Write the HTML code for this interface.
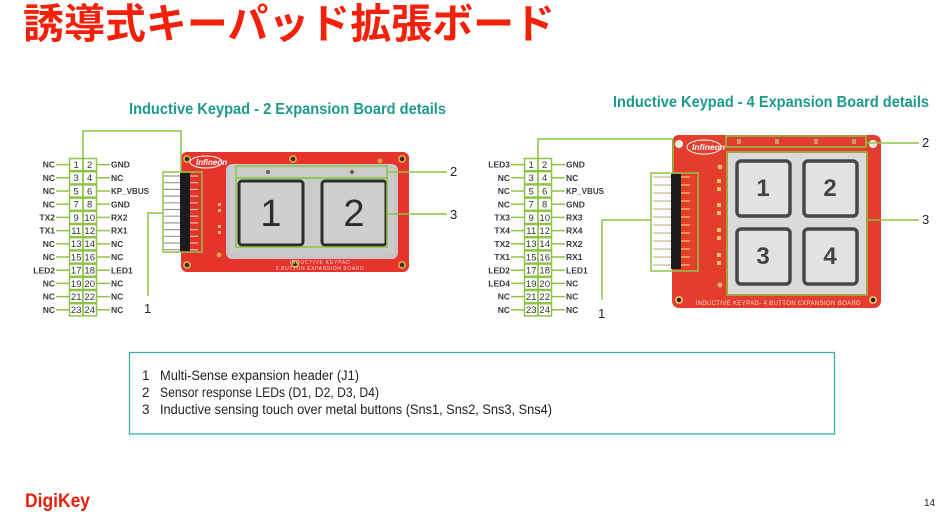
<!DOCTYPE html>
<html><head><meta charset="utf-8">
<style>
html,body{margin:0;padding:0;background:#fff;}
body{width:950px;height:517px;overflow:hidden;position:relative;font-family:"Liberation Sans","Noto Sans CJK JP",sans-serif;}
svg{position:absolute;left:0;top:0;}
</style></head>
<body>
<svg width="950" height="517" viewBox="0 0 950 517" xmlns="http://www.w3.org/2000/svg" font-family="Liberation Sans, Noto Sans CJK JP, sans-serif">
<!-- Title -->
<text x="23" y="38" font-size="41" font-weight="bold" fill="#f5200a" font-family="Liberation Sans, Noto Sans CJK JP, sans-serif" textLength="532" lengthAdjust="spacingAndGlyphs">誘導式キーパッド拡張ボード</text>

<!-- Subtitles -->
<text x="129" y="114" font-size="16" font-weight="bold" fill="#1d9a8c" textLength="317" lengthAdjust="spacingAndGlyphs">Inductive Keypad - 2 Expansion Board details</text>
<text x="613" y="107" font-size="16" font-weight="bold" fill="#1d9a8c" textLength="316" lengthAdjust="spacingAndGlyphs">Inductive Keypad - 4 Expansion Board details</text>

<!-- ===== Board 1 ===== -->
<rect x="181" y="152" width="228" height="120" rx="6" fill="#e6332b"/>
<!-- mounting holes -->
<g fill="#d9a441"><circle cx="187" cy="159" r="4"/><circle cx="293" cy="159" r="4"/><circle cx="402" cy="159" r="4"/><circle cx="187" cy="265" r="4"/><circle cx="295" cy="264" r="4"/><circle cx="402" cy="265" r="4"/><circle cx="380" cy="161" r="2.5"/><circle cx="219" cy="255" r="2.5"/></g>
<g fill="#3a2a20"><circle cx="187" cy="159" r="2.2"/><circle cx="293" cy="159" r="2.2"/><circle cx="402" cy="159" r="2.2"/><circle cx="187" cy="265" r="2.2"/><circle cx="295" cy="264" r="2.2"/><circle cx="402" cy="265" r="2.2"/></g>
<!-- infineon logo -->
<ellipse cx="206" cy="162" rx="16" ry="6" fill="none" stroke="#fff" stroke-width="1"/>
<text x="196" y="165" font-size="8" font-weight="bold" fill="#fff" font-style="italic">Infineon</text>
<!-- small pads -->
<g fill="#f0c060"><rect x="218" y="203" width="3" height="3"/><rect x="218" y="209" width="3" height="3"/><rect x="218" y="225" width="3" height="3"/><rect x="218" y="231" width="3" height="3"/></g>
<!-- plate -->
<rect x="226" y="164" width="172" height="95" rx="6" fill="#c6c6c6"/>
<rect x="230" y="168" width="164" height="87" rx="4" fill="#cbcbcb"/>
<circle cx="268" cy="172" r="2" fill="#7a5a4a"/><circle cx="352" cy="172" r="2" fill="#7a5a4a"/>
<rect x="239" y="181" width="64" height="64" rx="3" fill="#cfcfcf" stroke="#2d2d2d" stroke-width="3"/>
<rect x="322" y="181" width="64" height="64" rx="3" fill="#cfcfcf" stroke="#2d2d2d" stroke-width="3"/>
<text x="271" y="226" font-size="38" fill="#2d2d2d" text-anchor="middle">1</text>
<text x="354" y="226" font-size="38" fill="#2d2d2d" text-anchor="middle">2</text>
<text x="320" y="264" font-size="5" fill="#f3d6d0" text-anchor="middle" letter-spacing="0.8">INDUCTIVE KEYPAD</text>
<text x="320" y="270" font-size="5" fill="#f3d6d0" text-anchor="middle" letter-spacing="0.6">2 BUTTON EXPANSION BOARD</text>
<!-- header 1 -->
<g stroke="#9a9a8a" stroke-width="1.2">
<line x1="164" y1="176" x2="182" y2="176"/><line x1="164" y1="182.7" x2="182" y2="182.7"/><line x1="164" y1="189.4" x2="182" y2="189.4"/><line x1="164" y1="196.1" x2="182" y2="196.1"/><line x1="164" y1="202.8" x2="182" y2="202.8"/><line x1="164" y1="209.5" x2="182" y2="209.5"/><line x1="164" y1="216.2" x2="182" y2="216.2"/><line x1="164" y1="222.9" x2="182" y2="222.9"/><line x1="164" y1="229.6" x2="182" y2="229.6"/><line x1="164" y1="236.3" x2="182" y2="236.3"/><line x1="164" y1="243" x2="182" y2="243"/><line x1="164" y1="249.7" x2="182" y2="249.7"/>
</g>
<rect x="180" y="173" width="10" height="79" fill="#1c1c1c"/>
<g stroke="#d8c8a8" stroke-width="1.2">
<line x1="190" y1="176" x2="198" y2="176"/><line x1="190" y1="182.7" x2="198" y2="182.7"/><line x1="190" y1="189.4" x2="198" y2="189.4"/><line x1="190" y1="196.1" x2="198" y2="196.1"/><line x1="190" y1="202.8" x2="198" y2="202.8"/><line x1="190" y1="209.5" x2="198" y2="209.5"/><line x1="190" y1="216.2" x2="198" y2="216.2"/><line x1="190" y1="222.9" x2="198" y2="222.9"/><line x1="190" y1="229.6" x2="198" y2="229.6"/><line x1="190" y1="236.3" x2="198" y2="236.3"/><line x1="190" y1="243" x2="198" y2="243"/><line x1="190" y1="249.7" x2="198" y2="249.7"/>
</g>

<!-- ===== Board 2 ===== -->
<rect x="672" y="135" width="209" height="173" rx="7" fill="#e33d2e"/>
<g fill="#e8b860"><circle cx="679" cy="144" r="4"/><circle cx="873" cy="144" r="4"/><circle cx="679" cy="300" r="4"/><circle cx="873" cy="300" r="4"/><circle cx="720" cy="167" r="2.5"/><circle cx="720" cy="285" r="2.5"/></g>
<g fill="#2a1f18"><circle cx="679" cy="144" r="2.2"/><circle cx="873" cy="144" r="2.2"/><circle cx="679" cy="300" r="2.2"/><circle cx="873" cy="300" r="2.2"/></g>
<circle cx="679" cy="144" r="4" fill="#f4f0e8"/>
<circle cx="873" cy="144" r="4" fill="#f4f0e8"/>
<ellipse cx="704" cy="147" rx="17" ry="7" fill="none" stroke="#fff" stroke-width="1"/>
<text x="692" y="150" font-size="8.5" font-weight="bold" fill="#fff" font-style="italic">Infineon</text>
<g fill="#f2c468"><rect x="717" y="179" width="4" height="4"/><rect x="717" y="187" width="4" height="4"/><rect x="717" y="203" width="4" height="4"/><rect x="717" y="211" width="4" height="4"/><rect x="717" y="228" width="4" height="4"/><rect x="717" y="236" width="4" height="4"/><rect x="717" y="253" width="4" height="4"/><rect x="717" y="261" width="4" height="4"/></g>
<!-- LEDs -->
<g fill="#c89a6a"><rect x="737" y="139" width="4" height="5"/><rect x="775" y="139" width="4" height="5"/><rect x="814" y="139" width="4" height="5"/><rect x="852" y="139" width="4" height="5"/></g>
<!-- plate -->
<rect x="728" y="153" width="138" height="141" fill="#dadada"/>
<rect x="737" y="161" width="53" height="55" rx="4" fill="#e2e2e2" stroke="#474747" stroke-width="3.5"/>
<rect x="804" y="161" width="53" height="55" rx="4" fill="#e2e2e2" stroke="#474747" stroke-width="3.5"/>
<rect x="737" y="229" width="53" height="55" rx="4" fill="#e2e2e2" stroke="#474747" stroke-width="3.5"/>
<rect x="804" y="229" width="53" height="55" rx="4" fill="#e2e2e2" stroke="#474747" stroke-width="3.5"/>
<text x="763" y="196" font-size="24" font-weight="bold" fill="#444" text-anchor="middle">1</text>
<text x="830" y="196" font-size="24" font-weight="bold" fill="#444" text-anchor="middle">2</text>
<text x="763" y="264" font-size="24" font-weight="bold" fill="#444" text-anchor="middle">3</text>
<text x="830" y="264" font-size="24" font-weight="bold" fill="#444" text-anchor="middle">4</text>
<text x="778" y="305" font-size="6" fill="#f6d8cc" text-anchor="middle" textLength="165" lengthAdjust="spacing">INDUCTIVE KEYPAD- 4 BUTTON EXPANSION BOARD</text>
<!-- header 2 -->
<g stroke="#c8b890" stroke-width="1.2">
<line x1="653" y1="177" x2="672" y2="177"/><line x1="653" y1="185" x2="672" y2="185"/><line x1="653" y1="193" x2="672" y2="193"/><line x1="653" y1="201" x2="672" y2="201"/><line x1="653" y1="209" x2="672" y2="209"/><line x1="653" y1="217" x2="672" y2="217"/><line x1="653" y1="225" x2="672" y2="225"/><line x1="653" y1="233" x2="672" y2="233"/><line x1="653" y1="241" x2="672" y2="241"/><line x1="653" y1="249" x2="672" y2="249"/><line x1="653" y1="257" x2="672" y2="257"/><line x1="653" y1="265" x2="672" y2="265"/>
</g>
<rect x="671" y="174" width="10" height="95" fill="#1c1c1c"/>
<g stroke="#e0b860" stroke-width="1.5">
<line x1="681" y1="177" x2="690" y2="177"/><line x1="681" y1="185" x2="690" y2="185"/><line x1="681" y1="193" x2="690" y2="193"/><line x1="681" y1="201" x2="690" y2="201"/><line x1="681" y1="209" x2="690" y2="209"/><line x1="681" y1="217" x2="690" y2="217"/><line x1="681" y1="225" x2="690" y2="225"/><line x1="681" y1="233" x2="690" y2="233"/><line x1="681" y1="241" x2="690" y2="241"/><line x1="681" y1="249" x2="690" y2="249"/><line x1="681" y1="257" x2="690" y2="257"/><line x1="681" y1="265" x2="690" y2="265"/>
</g>

<!-- ===== Green connectors ===== -->
<g fill="none" stroke="#8cc447" stroke-width="1.5">
<!-- diagram 1 -->
<polyline points="83,158 83,131 181,131 181,172"/>
<rect x="163" y="172" width="39" height="80"/>
<polyline points="163,213 148,213 148,296"/>
<rect x="236" y="166" width="151" height="12"/>
<rect x="236" y="178" width="151" height="69"/>
<line x1="387" y1="172" x2="447" y2="172"/>
<line x1="387" y1="214" x2="447" y2="214"/>
<!-- diagram 2 -->
<polyline points="538,158 538,139 673,139 673,173"/>
<rect x="651" y="173" width="47" height="98"/>
<polyline points="651,220 602,220 602,300"/>
<rect x="726" y="136" width="140" height="11"/>
<rect x="727" y="152" width="140" height="143"/>
<line x1="866" y1="143" x2="919" y2="143"/>
<line x1="867" y1="220" x2="919" y2="220"/>

<!-- pin grid 1 -->
<rect x="69.5" y="158.5" width="13.5" height="12.2"/><rect x="83" y="158.5" width="13.5" height="12.2"/>
<rect x="69.5" y="171.7" width="13.5" height="12.2"/><rect x="83" y="171.7" width="13.5" height="12.2"/>
<rect x="69.5" y="184.9" width="13.5" height="12.2"/><rect x="83" y="184.9" width="13.5" height="12.2"/>
<rect x="69.5" y="198.1" width="13.5" height="12.2"/><rect x="83" y="198.1" width="13.5" height="12.2"/>
<rect x="69.5" y="211.3" width="13.5" height="12.2"/><rect x="83" y="211.3" width="13.5" height="12.2"/>
<rect x="69.5" y="224.5" width="13.5" height="12.2"/><rect x="83" y="224.5" width="13.5" height="12.2"/>
<rect x="69.5" y="237.7" width="13.5" height="12.2"/><rect x="83" y="237.7" width="13.5" height="12.2"/>
<rect x="69.5" y="250.9" width="13.5" height="12.2"/><rect x="83" y="250.9" width="13.5" height="12.2"/>
<rect x="69.5" y="264.1" width="13.5" height="12.2"/><rect x="83" y="264.1" width="13.5" height="12.2"/>
<rect x="69.5" y="277.3" width="13.5" height="12.2"/><rect x="83" y="277.3" width="13.5" height="12.2"/>
<rect x="69.5" y="290.5" width="13.5" height="12.2"/><rect x="83" y="290.5" width="13.5" height="12.2"/>
<rect x="69.5" y="303.7" width="13.5" height="12.2"/><rect x="83" y="303.7" width="13.5" height="12.2"/>
<!-- pin lines 1 -->
<line x1="56" y1="164.6" x2="69" y2="164.6"/><line x1="96.5" y1="164.6" x2="110" y2="164.6"/>
<line x1="56" y1="177.8" x2="69" y2="177.8"/><line x1="96.5" y1="177.8" x2="110" y2="177.8"/>
<line x1="56" y1="191" x2="69" y2="191"/><line x1="96.5" y1="191" x2="110" y2="191"/>
<line x1="56" y1="204.2" x2="69" y2="204.2"/><line x1="96.5" y1="204.2" x2="110" y2="204.2"/>
<line x1="56" y1="217.4" x2="69" y2="217.4"/><line x1="96.5" y1="217.4" x2="110" y2="217.4"/>
<line x1="56" y1="230.6" x2="69" y2="230.6"/><line x1="96.5" y1="230.6" x2="110" y2="230.6"/>
<line x1="56" y1="243.8" x2="69" y2="243.8"/><line x1="96.5" y1="243.8" x2="110" y2="243.8"/>
<line x1="56" y1="257" x2="69" y2="257"/><line x1="96.5" y1="257" x2="110" y2="257"/>
<line x1="56" y1="270.2" x2="69" y2="270.2"/><line x1="96.5" y1="270.2" x2="110" y2="270.2"/>
<line x1="56" y1="283.4" x2="69" y2="283.4"/><line x1="96.5" y1="283.4" x2="110" y2="283.4"/>
<line x1="56" y1="296.6" x2="69" y2="296.6"/><line x1="96.5" y1="296.6" x2="110" y2="296.6"/>
<line x1="56" y1="309.8" x2="69" y2="309.8"/><line x1="96.5" y1="309.8" x2="110" y2="309.8"/>

<!-- pin grid 2 -->
<rect x="524.5" y="158.5" width="13.5" height="12.2"/><rect x="538" y="158.5" width="13.5" height="12.2"/>
<rect x="524.5" y="171.7" width="13.5" height="12.2"/><rect x="538" y="171.7" width="13.5" height="12.2"/>
<rect x="524.5" y="184.9" width="13.5" height="12.2"/><rect x="538" y="184.9" width="13.5" height="12.2"/>
<rect x="524.5" y="198.1" width="13.5" height="12.2"/><rect x="538" y="198.1" width="13.5" height="12.2"/>
<rect x="524.5" y="211.3" width="13.5" height="12.2"/><rect x="538" y="211.3" width="13.5" height="12.2"/>
<rect x="524.5" y="224.5" width="13.5" height="12.2"/><rect x="538" y="224.5" width="13.5" height="12.2"/>
<rect x="524.5" y="237.7" width="13.5" height="12.2"/><rect x="538" y="237.7" width="13.5" height="12.2"/>
<rect x="524.5" y="250.9" width="13.5" height="12.2"/><rect x="538" y="250.9" width="13.5" height="12.2"/>
<rect x="524.5" y="264.1" width="13.5" height="12.2"/><rect x="538" y="264.1" width="13.5" height="12.2"/>
<rect x="524.5" y="277.3" width="13.5" height="12.2"/><rect x="538" y="277.3" width="13.5" height="12.2"/>
<rect x="524.5" y="290.5" width="13.5" height="12.2"/><rect x="538" y="290.5" width="13.5" height="12.2"/>
<rect x="524.5" y="303.7" width="13.5" height="12.2"/><rect x="538" y="303.7" width="13.5" height="12.2"/>
<!-- pin lines 2 -->
<line x1="511" y1="164.6" x2="524" y2="164.6"/><line x1="551.5" y1="164.6" x2="565" y2="164.6"/>
<line x1="511" y1="177.8" x2="524" y2="177.8"/><line x1="551.5" y1="177.8" x2="565" y2="177.8"/>
<line x1="511" y1="191" x2="524" y2="191"/><line x1="551.5" y1="191" x2="565" y2="191"/>
<line x1="511" y1="204.2" x2="524" y2="204.2"/><line x1="551.5" y1="204.2" x2="565" y2="204.2"/>
<line x1="511" y1="217.4" x2="524" y2="217.4"/><line x1="551.5" y1="217.4" x2="565" y2="217.4"/>
<line x1="511" y1="230.6" x2="524" y2="230.6"/><line x1="551.5" y1="230.6" x2="565" y2="230.6"/>
<line x1="511" y1="243.8" x2="524" y2="243.8"/><line x1="551.5" y1="243.8" x2="565" y2="243.8"/>
<line x1="511" y1="257" x2="524" y2="257"/><line x1="551.5" y1="257" x2="565" y2="257"/>
<line x1="511" y1="270.2" x2="524" y2="270.2"/><line x1="551.5" y1="270.2" x2="565" y2="270.2"/>
<line x1="511" y1="283.4" x2="524" y2="283.4"/><line x1="551.5" y1="283.4" x2="565" y2="283.4"/>
<line x1="511" y1="296.6" x2="524" y2="296.6"/><line x1="551.5" y1="296.6" x2="565" y2="296.6"/>
<line x1="511" y1="309.8" x2="524" y2="309.8"/><line x1="551.5" y1="309.8" x2="565" y2="309.8"/>
</g>

<!-- callout numbers -->
<g font-size="13" fill="#222">
<text x="144" y="313">1</text>
<text x="450" y="176">2</text>
<text x="450" y="219">3</text>
<text x="598" y="318">1</text>
<text x="922" y="147">2</text>
<text x="922" y="224">3</text>
</g>

<!-- pin numbers 1 -->
<g font-size="9.5" fill="#333" text-anchor="middle">
<text x="76.2" y="168">1</text><text x="89.7" y="168">2</text>
<text x="76.2" y="181.2">3</text><text x="89.7" y="181.2">4</text>
<text x="76.2" y="194.4">5</text><text x="89.7" y="194.4">6</text>
<text x="76.2" y="207.6">7</text><text x="89.7" y="207.6">8</text>
<text x="76.2" y="220.8">9</text><text x="89.7" y="220.8">10</text>
<text x="76.2" y="234">11</text><text x="89.7" y="234">12</text>
<text x="76.2" y="247.2">13</text><text x="89.7" y="247.2">14</text>
<text x="76.2" y="260.4">15</text><text x="89.7" y="260.4">16</text>
<text x="76.2" y="273.6">17</text><text x="89.7" y="273.6">18</text>
<text x="76.2" y="286.8">19</text><text x="89.7" y="286.8">20</text>
<text x="76.2" y="300">21</text><text x="89.7" y="300">22</text>
<text x="76.2" y="313.2">23</text><text x="89.7" y="313.2">24</text>
<!-- pin numbers 2 -->
<text x="531.2" y="168">1</text><text x="544.7" y="168">2</text>
<text x="531.2" y="181.2">3</text><text x="544.7" y="181.2">4</text>
<text x="531.2" y="194.4">5</text><text x="544.7" y="194.4">6</text>
<text x="531.2" y="207.6">7</text><text x="544.7" y="207.6">8</text>
<text x="531.2" y="220.8">9</text><text x="544.7" y="220.8">10</text>
<text x="531.2" y="234">11</text><text x="544.7" y="234">12</text>
<text x="531.2" y="247.2">13</text><text x="544.7" y="247.2">14</text>
<text x="531.2" y="260.4">15</text><text x="544.7" y="260.4">16</text>
<text x="531.2" y="273.6">17</text><text x="544.7" y="273.6">18</text>
<text x="531.2" y="286.8">19</text><text x="544.7" y="286.8">20</text>
<text x="531.2" y="300">21</text><text x="544.7" y="300">22</text>
<text x="531.2" y="313.2">23</text><text x="544.7" y="313.2">24</text>
</g>

<!-- pin labels 1 -->
<g font-size="8.5" font-weight="bold" fill="#3a3a3a">
<g text-anchor="end">
<text x="55" y="167.7">NC</text><text x="55" y="180.9">NC</text><text x="55" y="194.1">NC</text><text x="55" y="207.3">NC</text>
<text x="55" y="220.5">TX2</text><text x="55" y="233.7">TX1</text><text x="55" y="246.9">NC</text><text x="55" y="260.1">NC</text>
<text x="55" y="273.3">LED2</text><text x="55" y="286.5">NC</text><text x="55" y="299.7">NC</text><text x="55" y="312.9">NC</text>
<text x="510" y="167.7">LED3</text><text x="510" y="180.9">NC</text><text x="510" y="194.1">NC</text><text x="510" y="207.3">NC</text>
<text x="510" y="220.5">TX3</text><text x="510" y="233.7">TX4</text><text x="510" y="246.9">TX2</text><text x="510" y="260.1">TX1</text>
<text x="510" y="273.3">LED2</text><text x="510" y="286.5">LED4</text><text x="510" y="299.7">NC</text><text x="510" y="312.9">NC</text>
</g>
<text x="111" y="167.7">GND</text><text x="111" y="180.9">NC</text><text x="111" y="194.1" textLength="38" lengthAdjust="spacingAndGlyphs">KP_VBUS</text><text x="111" y="207.3">GND</text>
<text x="111" y="220.5">RX2</text><text x="111" y="233.7">RX1</text><text x="111" y="246.9">NC</text><text x="111" y="260.1">NC</text>
<text x="111" y="273.3">LED1</text><text x="111" y="286.5">NC</text><text x="111" y="299.7">NC</text><text x="111" y="312.9">NC</text>
<text x="566" y="167.7">GND</text><text x="566" y="180.9">NC</text><text x="566" y="194.1" textLength="38" lengthAdjust="spacingAndGlyphs">KP_VBUS</text><text x="566" y="207.3">GND</text>
<text x="566" y="220.5">RX3</text><text x="566" y="233.7">RX4</text><text x="566" y="246.9">RX2</text><text x="566" y="260.1">RX1</text>
<text x="566" y="273.3">LED1</text><text x="566" y="286.5">NC</text><text x="566" y="299.7">NC</text><text x="566" y="312.9">NC</text>
</g>

<!-- Legend -->
<rect x="129.5" y="352.5" width="705" height="81.5" fill="#fff" stroke="#3aaea0" stroke-width="1.3"/>
<g font-size="13.5" fill="#222">
<text x="142" y="380">1</text>
<text x="160" y="380" textLength="199" lengthAdjust="spacingAndGlyphs">Multi-Sense expansion header (J1)</text>
<text x="142" y="397">2</text>
<text x="160" y="397" textLength="219" lengthAdjust="spacingAndGlyphs">Sensor response LEDs (D1, D2, D3, D4)</text>
<text x="142" y="414">3</text>
<text x="160" y="414" textLength="392" lengthAdjust="spacingAndGlyphs">Inductive sensing touch over metal buttons (Sns1, Sns2, Sns3, Sns4)</text>
</g>

<!-- Footer -->
<text x="25" y="507" font-size="19" font-weight="bold" fill="#e8200a" textLength="65" lengthAdjust="spacingAndGlyphs">DigiKey</text>
<text x="924" y="506" font-size="10" fill="#222">14</text>
</svg>
</body></html>
